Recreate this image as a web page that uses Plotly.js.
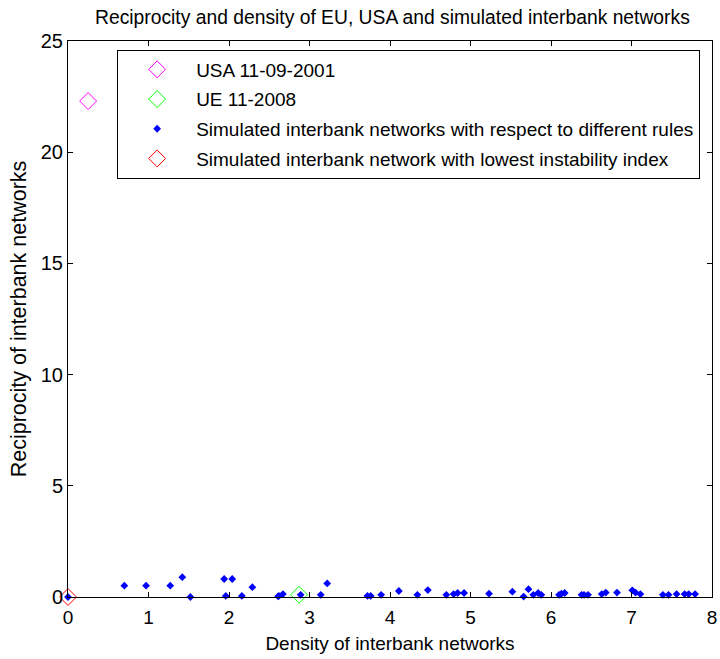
<!DOCTYPE html>
<html>
<head>
<meta charset="utf-8">
<script src="https://cdn.plot.ly/plotly-3.0.1.min.js"></script>
<style>html,body{margin:0;padding:0;background:#fff;}#chart{width:720px;height:659px;}</style>
</head>
<body>
<div id="chart"></div>
<script>
// Data
const usaDensity = [0.25];
const usaReciprocity = [22.3];
const euDensity = [2.87];
const euReciprocity = [0.1];
const simDensity = [0.0, 0.70, 0.97, 1.27, 1.42, 1.52, 1.94, 1.96, 2.04, 2.16, 2.29, 2.61, 2.62, 2.67, 2.89, 3.14, 3.22, 3.72, 3.76, 3.89, 4.11, 4.34, 4.47, 4.70, 4.79, 4.84, 4.92, 5.23, 5.52, 5.66, 5.72, 5.78, 5.84, 5.88, 6.10, 6.13, 6.17, 6.38, 6.41, 6.46, 6.63, 6.68, 6.82, 7.01, 7.05, 7.11, 7.39, 7.46, 7.56, 7.66, 7.71, 7.79];
const simReciprocity = [0.0, 0.51, 0.51, 0.51, 0.89, 0.0, 0.81, 0.05, 0.81, 0.05, 0.44, 0.03, 0.05, 0.13, 0.1, 0.1, 0.61, 0.05, 0.05, 0.1, 0.27, 0.1, 0.31, 0.1, 0.13, 0.18, 0.18, 0.15, 0.24, 0.02, 0.35, 0.1, 0.18, 0.1, 0.1, 0.15, 0.18, 0.1, 0.1, 0.1, 0.13, 0.2, 0.2, 0.3, 0.2, 0.13, 0.1, 0.1, 0.13, 0.13, 0.13, 0.13];
const bestDensity = [0.0];
const bestReciprocity = [0.0];
const seriesNames = ["USA 11-09-2001", "UE 11-2008", "Simulated interbank networks with respect to different rules", "Simulated interbank network with lowest instability index"];

const FONT = "Liberation Sans, Arial, sans-serif";

const traces = [
  {x: usaDensity, y: usaReciprocity, name: seriesNames[0], legendgroup: 'a', type: 'scatter', mode: 'markers', cliponaxis: false,
   marker: {symbol: 'diamond-open', size: 13, color: '#ff00ff', line: {width: 1}}},
  {x: euDensity, y: euReciprocity, name: seriesNames[1], legendgroup: 'b', type: 'scatter', mode: 'markers', cliponaxis: false,
   marker: {symbol: 'diamond-open', size: 13, color: '#00ff00', line: {width: 1}}},
  {x: simDensity, y: simReciprocity, name: seriesNames[2], legendgroup: 'c', type: 'scatter', mode: 'markers', cliponaxis: false,
   marker: {symbol: 'diamond', size: 6, color: '#0000ff'}},
  {x: bestDensity, y: bestReciprocity, name: seriesNames[3], legendgroup: 'd', type: 'scatter', mode: 'markers', cliponaxis: false,
   marker: {symbol: 'diamond-open', size: 13, color: '#ff0000', line: {width: 1}}}
];

const layout = {
  width: 720, height: 659,
  margin: {l: 68, r: 8, t: 41, b: 62},
  paper_bgcolor: '#fff', plot_bgcolor: '#fff',
  font: {family: FONT, color: '#000', size: 19},
  title: {text: 'Reciprocity and density of EU, USA and simulated interbank networks', font: {family: FONT, size: 19.3, color: '#000'}, x: 0.545, xanchor: 'center', y: 0.974, yanchor: 'middle'},
  xaxis: {range: [0, 8], dtick: 1, ticks: 'inside', ticklen: 5, tickcolor: '#000', showline: true, linecolor: '#000', linewidth: 1, mirror: 'ticks', showgrid: false, zeroline: false,
    tickfont: {family: FONT, size: 19}, ticklabelstandoff: 3, title: {text: 'Density of interbank networks', font: {family: FONT, size: 19}, standoff: 9}},
  yaxis: {range: [0, 25], dtick: 5, ticks: 'inside', ticklen: 5, tickcolor: '#000', showline: true, linecolor: '#000', linewidth: 1, mirror: 'ticks', showgrid: false, zeroline: false,
    tickfont: {family: FONT, size: 20}, title: {text: 'Reciprocity of interbank networks', font: {family: FONT, size: 21.5}, standoff: 8}},
  showlegend: true,
  legend: {x: 0.0763, xanchor: 'left', y: 0.8687, yanchor: 'middle', bordercolor: '#000', borderwidth: 1, bgcolor: '#fff',
    font: {family: FONT, size: 19}, itemwidth: 68, tracegroupgap: 2}
};

Plotly.newPlot('chart', traces, layout, {displayModeBar: false, staticPlot: true});
</script>
</body>
</html>
